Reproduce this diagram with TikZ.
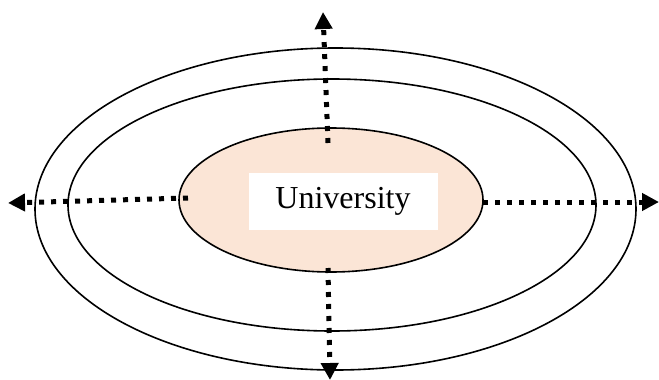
\documentclass[tikz,border=0pt]{standalone}
\usepackage{fontspec}
\setmainfont{Liberation Serif}
\usetikzlibrary{shapes.geometric, arrows.meta}

\begin{document}
\begin{tikzpicture}[x=1pt, y=-1pt,
  ring/.style={draw, ellipse, line width=1.6pt, inner sep=0pt},
  spread/.style={line width=5pt, dash pattern=on 5pt off 7pt,
    -{Triangle[length=17pt, width=17pt]}},
]
  \useasboundingbox (0,0) rectangle (659,380);
  \node[ring, minimum width=601pt, minimum height=322pt] (outer) at (335.5,209) {};
  \node[ring, minimum width=528pt, minimum height=252pt] (middle) at (332,205) {};
  \node[ring, fill={rgb,255:red,251;green,229;blue,214},
    minimum width=304pt, minimum height=144pt] (uni) at (331,200) {};
  \node[fill=white, minimum width=189pt, minimum height=57pt,
    font=\fontsize{32}{36}\selectfont] (label) at (343,201.5) {University};
  % end points of the arrows
  \coordinate (L0) at (188,198);  \coordinate (L1) at (8,203);
  \coordinate (R0) at (483,202);  \coordinate (R1) at (659,202);
  \coordinate (T0) at (328,143);  \coordinate (T1) at (323,12);
  \coordinate (B0) at (328,268);  \coordinate (B1) at (330,380);
  \foreach \s in {L,R,T,B}
    \draw[spread] (\s0) -- (\s1);
\end{tikzpicture}
\end{document}
